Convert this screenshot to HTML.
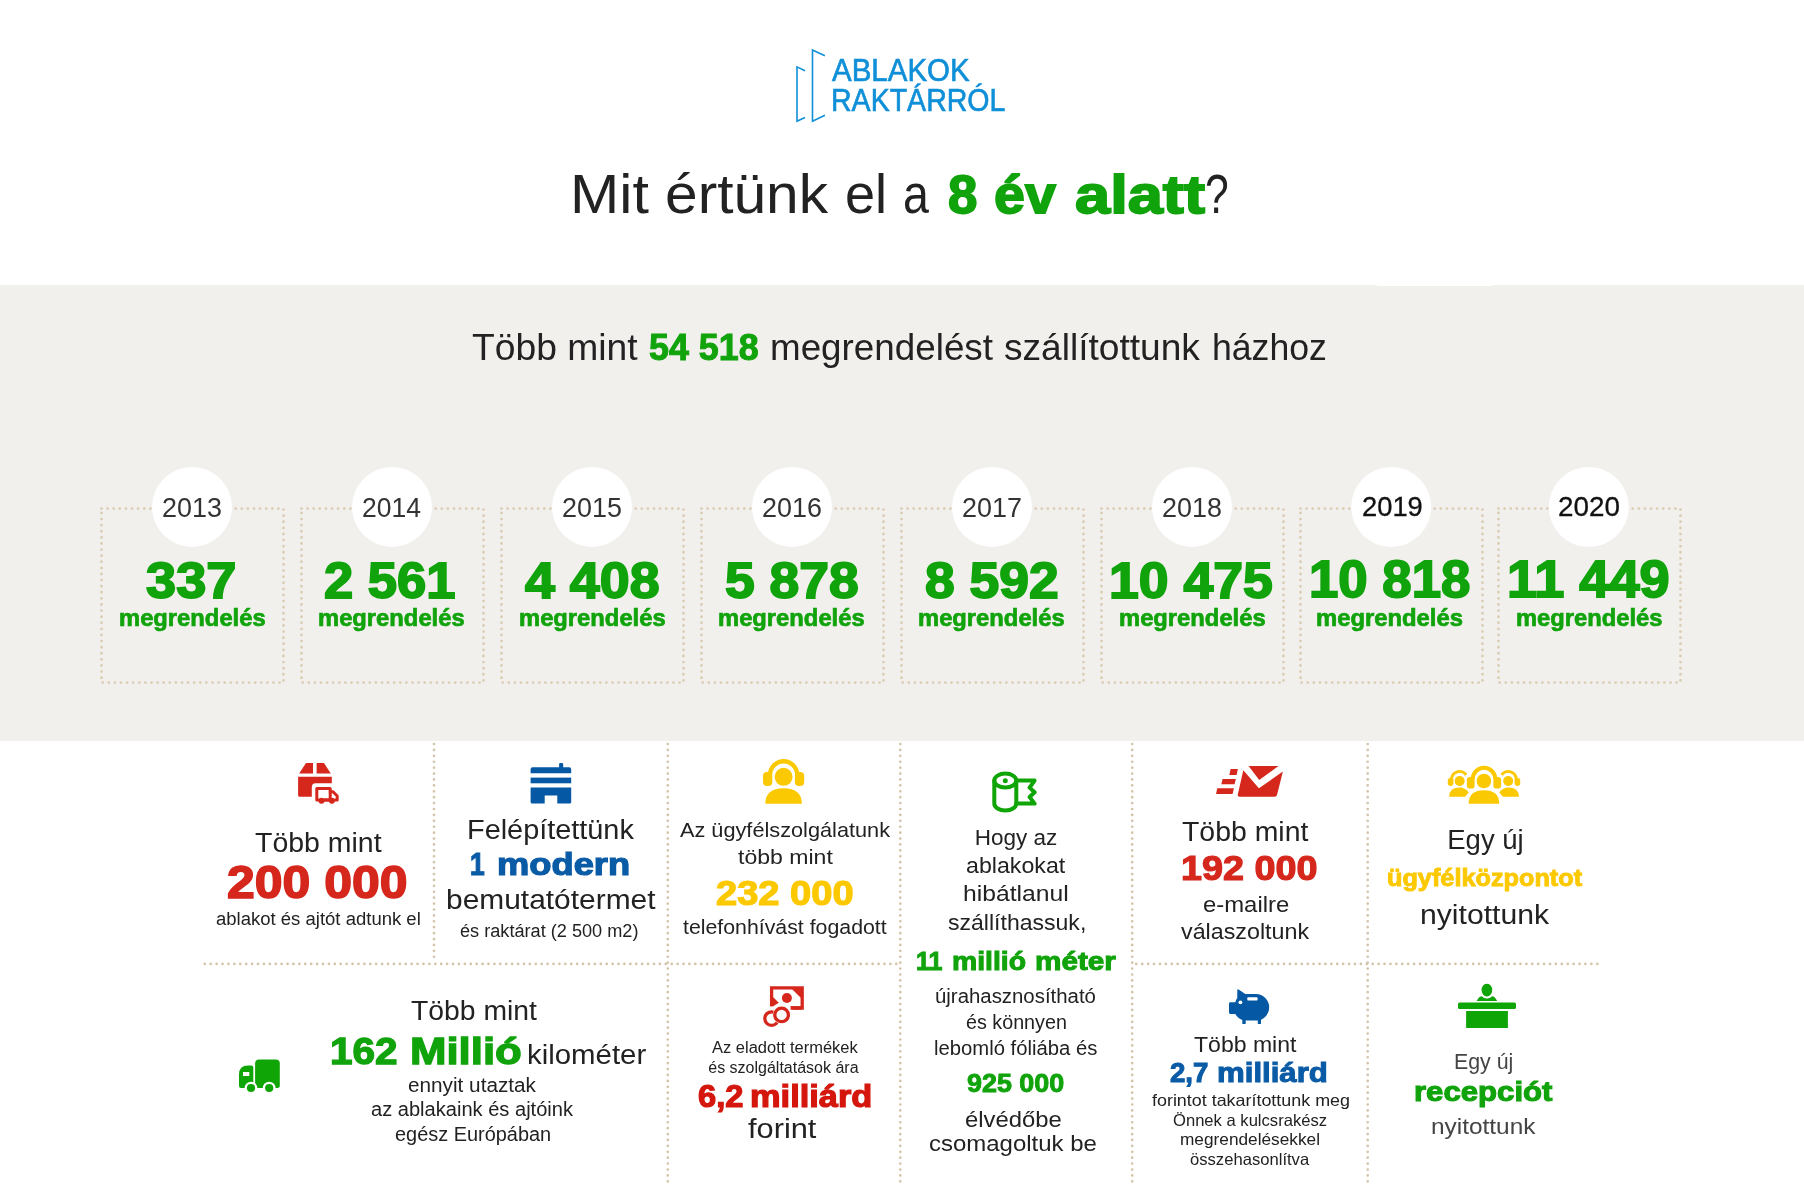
<!DOCTYPE html>
<html lang="hu"><head><meta charset="utf-8"><title>Mit értünk el a 8 év alatt?</title>
<style>
html,body{margin:0;padding:0;background:#fff}
body{width:1804px;height:1186px;position:relative;overflow:hidden;font-family:"Liberation Sans",sans-serif}
.t{position:absolute;white-space:nowrap;line-height:1;margin:0;padding:0;transform-origin:0 0}
.b{font-weight:700;paint-order:stroke fill;-webkit-text-stroke-color:currentColor}
.s{paint-order:stroke fill;-webkit-text-stroke-color:currentColor}
</style></head><body>
<svg width="1804" height="1186" viewBox="0 0 1804 1186" style="position:absolute;left:0;top:0">
<rect x="0" y="285" width="1804" height="456" fill="#f2f0ed"/>
<rect x="1377" y="285" width="115" height="1" fill="#fff"/>
<rect x="101.5" y="508.6" width="182" height="174" fill="none" stroke="#dccdb5" stroke-width="2.9" stroke-linecap="round" stroke-dasharray="0.01 6.09"/>
<rect x="301.5" y="508.6" width="182" height="174" fill="none" stroke="#dccdb5" stroke-width="2.9" stroke-linecap="round" stroke-dasharray="0.01 6.09"/>
<rect x="501.5" y="508.6" width="182" height="174" fill="none" stroke="#dccdb5" stroke-width="2.9" stroke-linecap="round" stroke-dasharray="0.01 6.09"/>
<rect x="701.5" y="508.6" width="182" height="174" fill="none" stroke="#dccdb5" stroke-width="2.9" stroke-linecap="round" stroke-dasharray="0.01 6.09"/>
<rect x="901.5" y="508.6" width="182" height="174" fill="none" stroke="#dccdb5" stroke-width="2.9" stroke-linecap="round" stroke-dasharray="0.01 6.09"/>
<rect x="1101.5" y="508.6" width="182" height="174" fill="none" stroke="#dccdb5" stroke-width="2.9" stroke-linecap="round" stroke-dasharray="0.01 6.09"/>
<rect x="1300.5" y="508.6" width="182" height="174" fill="none" stroke="#dccdb5" stroke-width="2.9" stroke-linecap="round" stroke-dasharray="0.01 6.09"/>
<rect x="1498.5" y="508.6" width="182" height="174" fill="none" stroke="#dccdb5" stroke-width="2.9" stroke-linecap="round" stroke-dasharray="0.01 6.09"/>
<circle cx="192" cy="507" r="40" fill="#fff"/>
<circle cx="392" cy="507" r="40" fill="#fff"/>
<circle cx="592" cy="507" r="40" fill="#fff"/>
<circle cx="792" cy="507" r="40" fill="#fff"/>
<circle cx="992" cy="507" r="40" fill="#fff"/>
<circle cx="1192" cy="507" r="40" fill="#fff"/>
<circle cx="1391.2" cy="507" r="40" fill="#fff"/>
<circle cx="1588.8" cy="507" r="40" fill="#fff"/>
<line x1="434" y1="744" x2="434" y2="960" stroke="#d4c4a9" stroke-width="2.7" stroke-linecap="round" stroke-dasharray="0.01 5.9"/>
<line x1="667.8" y1="744" x2="667.8" y2="1184" stroke="#d4c4a9" stroke-width="2.7" stroke-linecap="round" stroke-dasharray="0.01 5.9"/>
<line x1="900.3" y1="744" x2="900.3" y2="1184" stroke="#d4c4a9" stroke-width="2.7" stroke-linecap="round" stroke-dasharray="0.01 5.9"/>
<line x1="1132.2" y1="744" x2="1132.2" y2="1184" stroke="#d4c4a9" stroke-width="2.7" stroke-linecap="round" stroke-dasharray="0.01 5.9"/>
<line x1="1367.7" y1="744" x2="1367.7" y2="1184" stroke="#d4c4a9" stroke-width="2.7" stroke-linecap="round" stroke-dasharray="0.01 5.9"/>
<line x1="204.8" y1="963.9" x2="900" y2="963.9" stroke="#d4c4a9" stroke-width="2.7" stroke-linecap="round" stroke-dasharray="0.01 5.9"/>
<line x1="1136.3" y1="963.9" x2="1600.5" y2="963.9" stroke="#d4c4a9" stroke-width="2.7" stroke-linecap="round" stroke-dasharray="0.01 5.9"/>
<path d="M805 70.7 L797 66.9 L797 121.3 L805 117.6" fill="none" stroke="#0e8fd8" stroke-width="1.6" stroke-linejoin="miter"/>
<path d="M824.9 55.8 L812.5 50 L812.5 121.3 L824.9 115.3" fill="none" stroke="#0e8fd8" stroke-width="1.6" stroke-linejoin="miter"/>

<!-- box + truck (red) -->
<g fill="#d6271d">
 <path d="M306 763 H313 V773.4 H299.2 Z"/>
 <path d="M316.6 763 H324 L330.8 773.4 H316.6 Z"/>
 <path d="M298.1 776.8 H331.8 V783.2 H315.6 Q311.8 783.2 311.8 787 V796.7 H299.6 Q298.1 796.7 298.1 795.2 Z"/>
</g>
<g fill="none" stroke="#d6271d" stroke-width="3" stroke-linejoin="round" stroke-linecap="round">
 <path d="M319 800 H316.8 V788.6 H330.2 V800 H324.5"/>
 <path d="M330.2 791.8 H333 L337.2 796 V800 H335"/>
 <path d="M324 800 H329"/>
</g>
<circle cx="321.5" cy="800.8" r="3" fill="#d6271d"/><circle cx="331.9" cy="800.8" r="3" fill="#d6271d"/>
<!-- building (blue) -->
<g fill="#0559a4">
 <path d="M530.6 773.3 V769.2 Q530.6 767.2 532.6 767.2 H559.1 V764.2 Q559.1 763 560.3 763 H562 Q563.2 763 563.2 764.2 V767.2 H569.2 Q571.2 767.2 571.2 769.2 V773.3 Z"/>
 <rect x="530.6" y="777.6" width="40.6" height="5.7"/>
 <path d="M530.6 787.6 H571.2 V802.1 Q571.2 803.6 569.7 803.6 H557.3 V795.6 H544.7 V803.6 H532.1 Q530.6 803.6 530.6 802.1 Z"/>
</g>
<!-- headset person (yellow) -->
<g fill="#fbc901">
 <circle cx="783.6" cy="776.8" r="9"/>
 <path d="M765.3 803.8 Q765.3 788.3 783.6 788.3 Q801.9 788.3 801.9 803.8 Z"/>
 <rect x="763" y="772" width="9.3" height="14" rx="4"/>
 <rect x="794.9" y="772" width="9.3" height="14" rx="4"/>
</g>
<path d="M770 775 A13.6 13.8 0 0 1 797.2 775" fill="none" stroke="#fbc901" stroke-width="4.4"/>
<!-- roll (green) -->
<g fill="none" stroke="#10a506" stroke-width="4" stroke-linejoin="round" stroke-linecap="round">
 <ellipse cx="1005.3" cy="780.6" rx="11" ry="7"/>
 <path d="M994.3 780.6 V803.6 A11 7 0 0 0 1016.3 803.6 V780.6"/>
 <path d="M1016.3 780.6 H1034.6 L1029.6 787.6 L1034.6 792.3 L1029.6 797 L1034.6 803.6 H1016.3"/>
</g>
<circle cx="1005.3" cy="780.8" r="2.5" fill="#10a506"/>
<!-- mail (red) -->
<g fill="#d6271d">
 <path d="M1248.6 766 H1278.5 L1259.2 780 Z"/>
 <path d="M1243.3 770.3 L1258.9 788.3 L1282.9 771.6 L1277 795 Q1276.5 796.7 1274.8 796.7 H1239.6 Q1237.2 796.7 1237.8 794.4 Z"/>
 <path d="M1230.6 769 H1237.9 L1236.6 775 H1229.3 Z"/>
 <path d="M1222.6 779 H1235.9 L1234.6 784.3 H1221.3 Z"/>
 <path d="M1217.3 788.3 H1233.9 L1232.6 794 H1216 Z"/>
</g>
<!-- group (yellow) -->
<g fill="#fbc901">
 <!-- side persons -->
 <circle cx="1459.6" cy="781" r="5"/>
 <path d="M1449.2 796.7 Q1449.2 787.5 1459.6 787.5 Q1465 787.5 1468.8 792.5 L1465 796.7 Z"/>
 <rect x="1447.8" y="778" width="5.6" height="8" rx="2.4"/>
 <circle cx="1508.2" cy="781" r="5"/>
 <path d="M1518.9 796.7 Q1518.9 787.5 1508.2 787.5 Q1503 787.5 1499.2 792.5 L1503 796.7 Z"/>
 <rect x="1514.6" y="778" width="5.6" height="8" rx="2.4"/>
</g>
<path d="M1451.6 780 A8 8.2 0 0 1 1466.2 775" fill="none" stroke="#fbc901" stroke-width="3"/>
<path d="M1516.2 780 A8 8.2 0 0 0 1501.6 775" fill="none" stroke="#fbc901" stroke-width="3"/>
<!-- white halo for center person -->
<g fill="#fff"><circle cx="1483.9" cy="781" r="8.6"/><rect x="1465.6" y="775.7" width="10.3" height="14.2" rx="4"/><rect x="1492.1" y="775.7" width="10.3" height="14.2" rx="4"/></g>
<g fill="#fbc901">
 <circle cx="1483.9" cy="781" r="7.3"/>
 <path d="M1468.7 803.7 Q1468.7 790.3 1483.9 790.3 Q1499.2 790.3 1499.2 803.7 Z"/>
 <rect x="1466.9" y="777" width="7.7" height="11.6" rx="3.2"/>
 <rect x="1493.4" y="777" width="7.7" height="11.6" rx="3.2"/>
</g>
<path d="M1472.6 779.6 A11.4 11.8 0 0 1 1495.4 779.6" fill="none" stroke="#fbc901" stroke-width="4"/>
<!-- truck (green) -->
<g fill="#10a506">
 <path d="M255.1 1063.6 Q255.1 1059.6 259.1 1059.6 H275.8 Q279.8 1059.6 279.8 1063.6 V1085.4 Q279.8 1087.9 277.3 1087.9 H257.6 Q255.1 1087.9 255.1 1085.4 Z"/>
 <path d="M239 1074.6 Q239 1065.6 248 1065.6 H251.3 Q253.3 1065.6 253.3 1067.6 V1087.9 H241 Q239 1087.9 239 1085.9 Z M243 1072 V1076 H249.3 V1072 Z" fill-rule="evenodd"/>
</g>
<circle cx="251" cy="1088" r="6.3" fill="#fff"/><circle cx="269.2" cy="1088" r="6.3" fill="#fff"/>
<circle cx="251" cy="1088" r="4.1" fill="#10a506"/><circle cx="269.2" cy="1088" r="4.1" fill="#10a506"/>
<!-- money (red) -->
<g fill="none" stroke="#d6271d" stroke-width="3.3">
 <path d="M771.6 1006.3 V987.8 H802.2 V1008 H790.6"/>
</g>
<g fill="#d6271d">
 <path d="M791.9 989 H801.5 V998.6 Z"/>
 <path d="M773.2 997.3 L778.8 1002.8 L773.2 1006.3 H770 V997.3 Z"/>
 <path d="M790.4 1006.3 H801 V1009.65 H793 Z"/>
 <circle cx="786.9" cy="998" r="5"/>
</g>
<circle cx="771.6" cy="1018.6" r="6.8" fill="none" stroke="#d6271d" stroke-width="3.3"/>
<circle cx="781.6" cy="1014.9" r="9.0" fill="#fff"/>
<circle cx="781.6" cy="1014.9" r="6.8" fill="none" stroke="#d6271d" stroke-width="3.3"/>
<!-- piggy (blue) -->
<g fill="#0559a4">
 <path d="M1245.3 994 H1255.9 A13.3 13.3 0 0 1 1255.9 1020.6 H1247 Q1239 1020.6 1235.3 1014 H1230.4 Q1229 1014 1229 1012.6 V1003.7 Q1229 1002.3 1230.4 1002.3 H1235.3 Q1236.3 999 1237.3 998 V990.5 Q1237.3 988.6 1239 989.8 Z"/>
 <rect x="1242.3" y="1019" width="3.4" height="5" rx="0.6"/>
 <rect x="1257.8" y="1019" width="3.2" height="5" rx="0.6"/>
</g>
<rect x="1247.3" y="997.3" width="10.3" height="3.3" rx="0.8" fill="#fff"/>
<circle cx="1240.4" cy="1002.3" r="1.9" fill="#fff"/>
<!-- reception (green) -->
<g fill="#10a506">
 <ellipse cx="1486.9" cy="990" rx="5.4" ry="6.4"/>
 <rect x="1458" y="1002.5" width="58" height="6.5" rx="1.6"/>
 <rect x="1466.1" y="1011" width="41.8" height="17"/>
</g>
<path d="M1476.6 1001 Q1479 996.2 1482.2 996 Q1486.9 1000.4 1491.6 996 Q1494.8 996.2 1497.2 1001 Z" fill="#10a506"/>
<ellipse cx="1486.9" cy="990.3" rx="6.6" ry="7.6" fill="none" stroke="#fff" stroke-width="1.4"/>

</svg>
<div style="position:absolute;left:0;top:0;width:1804px;height:1186px;will-change:transform">
<div class="t s" style="left:831.99px;top:55px;font-size:30.5px;color:#0e8fd8;transform:scaleX(0.9666);-webkit-text-stroke-width:0.6px">ABLAKOK</div>
<div class="t s" style="left:830.71px;top:85px;font-size:30.5px;color:#0e8fd8;transform:scaleX(0.9356);-webkit-text-stroke-width:0.6px">RAKTÁRRÓL</div>
<div class="t" style="left:570.04px;top:167px;font-size:55.5px;color:#222222;transform:scaleX(1.0657)">Mit</div>
<div class="t" style="left:665.29px;top:167px;font-size:55.5px;color:#222222;transform:scaleX(1.0570)">értünk</div>
<div class="t" style="left:844.55px;top:167px;font-size:55.5px;color:#222222;transform:scaleX(0.9745)">el</div>
<div class="t" style="left:902.72px;top:167px;font-size:55.5px;color:#222222;transform:scaleX(0.8379)">a</div>
<div class="t b" style="left:947.80px;top:168px;font-size:54.5px;color:#10a30b;transform:scaleX(0.9698);-webkit-text-stroke-width:1.8px">8</div>
<div class="t b" style="left:994.28px;top:168px;font-size:54.5px;color:#10a30b;transform:scaleX(1.0195);-webkit-text-stroke-width:1.8px">év</div>
<div class="t b" style="left:1074.58px;top:168px;font-size:54.5px;color:#10a30b;transform:scaleX(1.1596);-webkit-text-stroke-width:1.8px">alatt</div>
<div class="t" style="left:1205.07px;top:167px;font-size:55.5px;color:#222222;transform:scaleX(0.7667)">?</div>
<div class="t" style="left:472.00px;top:329px;font-size:37px;color:#222222;transform:scaleX(1.0065)">Több mint</div>
<div class="t b" style="left:648.81px;top:330px;font-size:36.5px;color:#10a30b;transform:scaleX(0.9826);-webkit-text-stroke-width:1.0px">54 518</div>
<div class="t" style="left:769.81px;top:329px;font-size:37px;color:#222222;transform:scaleX(0.9946)">megrendelést</div>
<div class="t" style="left:1004.20px;top:329px;font-size:37px;color:#222222;transform:scaleX(1.0027)">szállítottunk</div>
<div class="t" style="left:1211.87px;top:329px;font-size:37px;color:#222222;transform:scaleX(0.9628)">házhoz</div>
<div class="t" style="left:161.99px;top:495px;font-size:26.8px;color:#333333;transform:scaleX(1.0050)">2013</div>
<div class="t b" style="left:146.39px;top:556px;font-size:49.3px;color:#10a30b;transform:scaleX(1.0994);-webkit-text-stroke-width:1.8px">337</div>
<div class="t b" style="left:118.86px;top:606px;font-size:24px;color:#10a30b;transform:scaleX(0.9904);-webkit-text-stroke-width:0.7px">megrendelés</div>
<div class="t" style="left:362.01px;top:495px;font-size:26.8px;color:#333333;transform:scaleX(0.9879)">2014</div>
<div class="t b" style="left:323.89px;top:556px;font-size:49.3px;color:#10a30b;transform:scaleX(1.0667);-webkit-text-stroke-width:1.8px">2 561</div>
<div class="t b" style="left:318.36px;top:606px;font-size:24px;color:#10a30b;transform:scaleX(0.9904);-webkit-text-stroke-width:0.7px">megrendelés</div>
<div class="t" style="left:561.99px;top:495px;font-size:26.8px;color:#333333;transform:scaleX(1.0050)">2015</div>
<div class="t b" style="left:524.98px;top:556px;font-size:49.3px;color:#10a30b;transform:scaleX(1.0909);-webkit-text-stroke-width:1.8px">4 408</div>
<div class="t b" style="left:519.36px;top:606px;font-size:24px;color:#10a30b;transform:scaleX(0.9904);-webkit-text-stroke-width:0.7px">megrendelés</div>
<div class="t" style="left:761.99px;top:495px;font-size:26.8px;color:#333333;transform:scaleX(1.0050)">2016</div>
<div class="t b" style="left:724.89px;top:556px;font-size:49.3px;color:#10a30b;transform:scaleX(1.0835);-webkit-text-stroke-width:1.8px">5 878</div>
<div class="t b" style="left:718.36px;top:606px;font-size:24px;color:#10a30b;transform:scaleX(0.9904);-webkit-text-stroke-width:0.7px">megrendelés</div>
<div class="t" style="left:961.99px;top:495px;font-size:26.8px;color:#333333;transform:scaleX(1.0050)">2017</div>
<div class="t b" style="left:924.89px;top:556px;font-size:49.3px;color:#10a30b;transform:scaleX(1.0835);-webkit-text-stroke-width:1.8px">8 592</div>
<div class="t b" style="left:918.36px;top:606px;font-size:24px;color:#10a30b;transform:scaleX(0.9904);-webkit-text-stroke-width:0.7px">megrendelés</div>
<div class="t" style="left:1161.99px;top:495px;font-size:26.8px;color:#333333;transform:scaleX(1.0050)">2018</div>
<div class="t b" style="left:1108.72px;top:556px;font-size:49.3px;color:#10a30b;transform:scaleX(1.0861);-webkit-text-stroke-width:1.8px">10 475</div>
<div class="t b" style="left:1119.36px;top:606px;font-size:24px;color:#10a30b;transform:scaleX(0.9904);-webkit-text-stroke-width:0.7px">megrendelés</div>
<div class="t s" style="left:1362.15px;top:493px;font-size:27.2px;color:#111111;transform:scaleX(1.0058);-webkit-text-stroke-width:0.3px">2019</div>
<div class="t b" style="left:1309.08px;top:554px;font-size:51px;color:#10a30b;transform:scaleX(1.0347);-webkit-text-stroke-width:1.8px">10 818</div>
<div class="t b" style="left:1316.36px;top:606px;font-size:24px;color:#10a30b;transform:scaleX(0.9921);-webkit-text-stroke-width:0.7px">megrendelés</div>
<div class="t s" style="left:1557.63px;top:493px;font-size:27.2px;color:#111111;transform:scaleX(1.0224);-webkit-text-stroke-width:0.3px">2020</div>
<div class="t b" style="left:1506.52px;top:554px;font-size:51px;color:#10a30b;transform:scaleX(1.0623);-webkit-text-stroke-width:1.8px">11 449</div>
<div class="t b" style="left:1515.61px;top:606px;font-size:24px;color:#10a30b;transform:scaleX(0.9887);-webkit-text-stroke-width:0.7px">megrendelés</div>
<div class="t" style="left:255.00px;top:829px;font-size:27.5px;color:#222222;transform:scaleX(1.0356)">Több mint</div>
<div class="t b" style="left:227.29px;top:859px;font-size:46.5px;color:#d6271d;transform:scaleX(1.0736);-webkit-text-stroke-width:1.6px">200 000</div>
<div class="t" style="left:216.25px;top:910px;font-size:18px;color:#222222;transform:scaleX(1.0283)">ablakot és ajtót adtunk el</div>
<div class="t" style="left:467.15px;top:816px;font-size:27.5px;color:#222222;transform:scaleX(1.0494)">Felépítettünk</div>
<div class="t b" style="left:470.47px;top:849px;font-size:31.5px;color:#0a5ba6;transform:scaleX(0.8372);-webkit-text-stroke-width:1.2px">1</div>
<div class="t b" style="left:496.99px;top:849px;font-size:31.5px;color:#0a5ba6;transform:scaleX(1.1527);-webkit-text-stroke-width:1.2px">modern</div>
<div class="t" style="left:445.91px;top:886px;font-size:27.5px;color:#222222;transform:scaleX(1.0878)">bemutatótermet</div>
<div class="t" style="left:459.50px;top:922px;font-size:18px;color:#222222;transform:scaleX(1.0081)">és raktárat (2 500 m2)</div>
<div class="t" style="left:679.50px;top:819px;font-size:21px;color:#222222;transform:scaleX(1.0338)">Az ügyfélszolgálatunk</div>
<div class="t" style="left:737.50px;top:846px;font-size:21px;color:#222222;transform:scaleX(1.0977)">több mint</div>
<div class="t b" style="left:715.82px;top:876px;font-size:35.5px;color:#fcc800;transform:scaleX(1.0722);-webkit-text-stroke-width:1.2px">232 000</div>
<div class="t" style="left:683.00px;top:917px;font-size:20.5px;color:#222222;transform:scaleX(1.0390)">telefonhívást fogadott</div>
<div class="t" style="left:974.75px;top:827px;font-size:22.5px;color:#222222">Hogy az</div>
<div class="t" style="left:966.25px;top:855px;font-size:22.5px;color:#222222;transform:scaleX(1.0302)">ablakokat</div>
<div class="t" style="left:963.40px;top:883px;font-size:22.5px;color:#222222;transform:scaleX(1.0972)">hibátlanul</div>
<div class="t" style="left:947.50px;top:912px;font-size:22.5px;color:#222222;transform:scaleX(1.0239)">szállíthassuk,</div>
<div class="t b" style="left:916.42px;top:948px;font-size:26.3px;color:#10a30b;transform:scaleX(0.9531);-webkit-text-stroke-width:1.0px">11</div>
<div class="t b" style="left:952.16px;top:948px;font-size:26.3px;color:#10a30b;transform:scaleX(1.0786);-webkit-text-stroke-width:1.0px">millió</div>
<div class="t b" style="left:1035.14px;top:948px;font-size:26.3px;color:#10a30b;transform:scaleX(1.1290);-webkit-text-stroke-width:1.0px">méter</div>
<div class="t" style="left:935.20px;top:987px;font-size:19.5px;color:#222222;transform:scaleX(1.0451)">újrahasznosítható</div>
<div class="t" style="left:966.25px;top:1013px;font-size:19.5px;color:#222222;transform:scaleX(1.0112)">és könnyen</div>
<div class="t" style="left:933.76px;top:1039px;font-size:19.5px;color:#222222;transform:scaleX(1.0394)">lebomló fóliába és</div>
<div class="t b" style="left:967.47px;top:1071px;font-size:25.5px;color:#10a30b;transform:scaleX(1.0550);-webkit-text-stroke-width:0.9px">925 000</div>
<div class="t" style="left:965.00px;top:1109px;font-size:22.5px;color:#222222;transform:scaleX(1.0598)">élvédőbe</div>
<div class="t" style="left:929.30px;top:1133px;font-size:22.5px;color:#222222;transform:scaleX(1.0651)">csomagoltuk be</div>
<div class="t" style="left:1182.00px;top:818px;font-size:27.5px;color:#222222;transform:scaleX(1.0336)">Több mint</div>
<div class="t b" style="left:1181.49px;top:850px;font-size:35px;color:#d6271d;transform:scaleX(1.0778);-webkit-text-stroke-width:1.2px">192 000</div>
<div class="t" style="left:1202.50px;top:893px;font-size:22.8px;color:#222222;transform:scaleX(1.0470)">e-mailre</div>
<div class="t" style="left:1180.75px;top:920px;font-size:22.8px;color:#222222;transform:scaleX(1.0214)">válaszoltunk</div>
<div class="t" style="left:1447.25px;top:826px;font-size:27.5px;color:#222222">Egy új</div>
<div class="t b" style="left:1386.92px;top:866px;font-size:24px;color:#fcc800;transform:scaleX(1.0528);-webkit-text-stroke-width:0.9px">ügyfélközpontot</div>
<div class="t" style="left:1419.90px;top:901px;font-size:27.5px;color:#222222;transform:scaleX(1.0966)">nyitottunk</div>
<div class="t" style="left:411.25px;top:997px;font-size:27.5px;color:#222222;transform:scaleX(1.0295)">Több mint</div>
<div class="t b" style="left:330.34px;top:1033px;font-size:37.6px;color:#10a30b;transform:scaleX(1.0786);-webkit-text-stroke-width:1.3px">162</div>
<div class="t b" style="left:409.53px;top:1033px;font-size:37.6px;color:#10a30b;transform:scaleX(1.1646);-webkit-text-stroke-width:1.3px">Millió</div>
<div class="t" style="left:527.33px;top:1041px;font-size:27.5px;color:#222222;transform:scaleX(1.0688)">kilométer</div>
<div class="t" style="left:408.00px;top:1075px;font-size:20px;color:#222222;transform:scaleX(1.0369)">ennyit utaztak</div>
<div class="t" style="left:371.25px;top:1099px;font-size:20px;color:#222222;transform:scaleX(1.0038)">az ablakaink és ajtóink</div>
<div class="t" style="left:395.00px;top:1124px;font-size:20px;color:#222222;transform:scaleX(0.9957)">egész Európában</div>
<div class="t" style="left:712.00px;top:1040px;font-size:16px;color:#222222;transform:scaleX(1.0306)">Az eladott termékek</div>
<div class="t" style="left:708.25px;top:1060px;font-size:16px;color:#222222">és szolgáltatások ára</div>
<div class="t b" style="left:697.78px;top:1081px;font-size:31px;color:#d4160c;transform:scaleX(1.0534);-webkit-text-stroke-width:1.2px">6,2</div>
<div class="t b" style="left:749.85px;top:1081px;font-size:31px;color:#d4160c;transform:scaleX(1.1096);-webkit-text-stroke-width:1.2px">milliárd</div>
<div class="t" style="left:748.25px;top:1115px;font-size:27.5px;color:#222222;transform:scaleX(1.1180)">forint</div>
<div class="t" style="left:1193.70px;top:1034px;font-size:22px;color:#222222;transform:scaleX(1.0470)">Több mint</div>
<div class="t b" style="left:1170.40px;top:1059px;font-size:27.4px;color:#0a5ba6;transform:scaleX(1.0092);-webkit-text-stroke-width:1.0px">2,7</div>
<div class="t b" style="left:1217.43px;top:1059px;font-size:27.4px;color:#0a5ba6;transform:scaleX(1.1381);-webkit-text-stroke-width:1.0px">milliárd</div>
<div class="t" style="left:1151.75px;top:1092px;font-size:16.5px;color:#222222;transform:scaleX(1.0846)">forintot takarítottunk meg</div>
<div class="t" style="left:1173.25px;top:1112px;font-size:16.5px;color:#222222;transform:scaleX(1.0056)">Önnek a kulcsrakész</div>
<div class="t" style="left:1180.20px;top:1131px;font-size:16.5px;color:#222222;transform:scaleX(1.0454)">megrendelésekkel</div>
<div class="t" style="left:1190.00px;top:1151px;font-size:16.5px;color:#222222;transform:scaleX(1.0072)">összehasonlítva</div>
<div class="t" style="left:1453.51px;top:1052px;font-size:21.5px;color:#444444;transform:scaleX(0.9918)">Egy új</div>
<div class="t b" style="left:1413.50px;top:1077px;font-size:28.3px;color:#10a30b;transform:scaleX(1.1005);-webkit-text-stroke-width:1.1px">recepciót</div>
<div class="t" style="left:1430.62px;top:1116px;font-size:22.5px;color:#444444;transform:scaleX(1.0848)">nyitottunk</div>
</div>
</body></html>
